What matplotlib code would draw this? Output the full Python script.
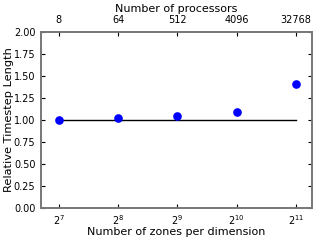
import matplotlib
matplotlib.use("Agg")
import matplotlib.pyplot as plt

zones = [128, 256, 512, 1024, 2048]
zone_labels = ["$2^{7}$", "$2^{8}$", "$2^{9}$", "$2^{10}$", "$2^{11}$"]
procs = ["8", "64", "512", "4096", "32768"]
rel_len = [1.00, 1.02, 1.04, 1.09, 1.41]
ref_line = [1.0, 1.0]

fig = plt.figure(figsize=(3.2, 2.4), dpi=100)
ax = fig.add_axes([41/320, 1-208/240, (312-41)/320, (208-32)/240])
ax.set_xscale("log", base=2)
ax.plot([zones[0], zones[-1]], ref_line, color="black", lw=1.0)
ax.plot(zones, rel_len, "o", color="#0000ff", ms=5.2, mec="#0000ff", clip_on=False, zorder=3)
ax.set_xlim(2**6.7, 2**11.27)
ax.set_ylim(0, 2.0)
yt = [0, 0.25, 0.5, 0.75, 1.0, 1.25, 1.5, 1.75, 2.0]
ax.set_yticks(yt)
ax.set_yticklabels(["%.2f" % v for v in yt])
ax.set_xticks(zones)
ax.set_xticklabels(zone_labels)
ax.xaxis.set_minor_locator(matplotlib.ticker.NullLocator())
ax.tick_params(direction="in", length=3, labelsize=7, right=True, color="black")
ax.tick_params(axis="y", pad=4)
ax.set_xlabel("Number of zones per dimension", fontsize=8, labelpad=0.5)
ax.set_ylabel("Relative Timestep Length", fontsize=8.2)
ax.yaxis.set_label_coords(-0.10, 0.5)
for s in ax.spines.values():
    s.set_color("#777777")
    s.set_linewidth(1.2)

ax2 = ax.twiny()
ax2.set_xscale("log", base=2)
ax2.set_xlim(ax.get_xlim())
ax2.set_xticks(zones)
ax2.set_xticklabels(procs)
ax2.xaxis.set_minor_locator(matplotlib.ticker.NullLocator())
ax2.tick_params(direction="in", length=3, labelsize=7, pad=5)
ax2.set_xlabel("Number of processors", fontsize=8)
ax2.xaxis.set_label_coords(0.5, 1 + (32 - 11.5) / 176)
for s in ax2.spines.values():
    s.set_color("#777777")
    s.set_linewidth(1.2)

fig.savefig("out.png", dpi=100)
